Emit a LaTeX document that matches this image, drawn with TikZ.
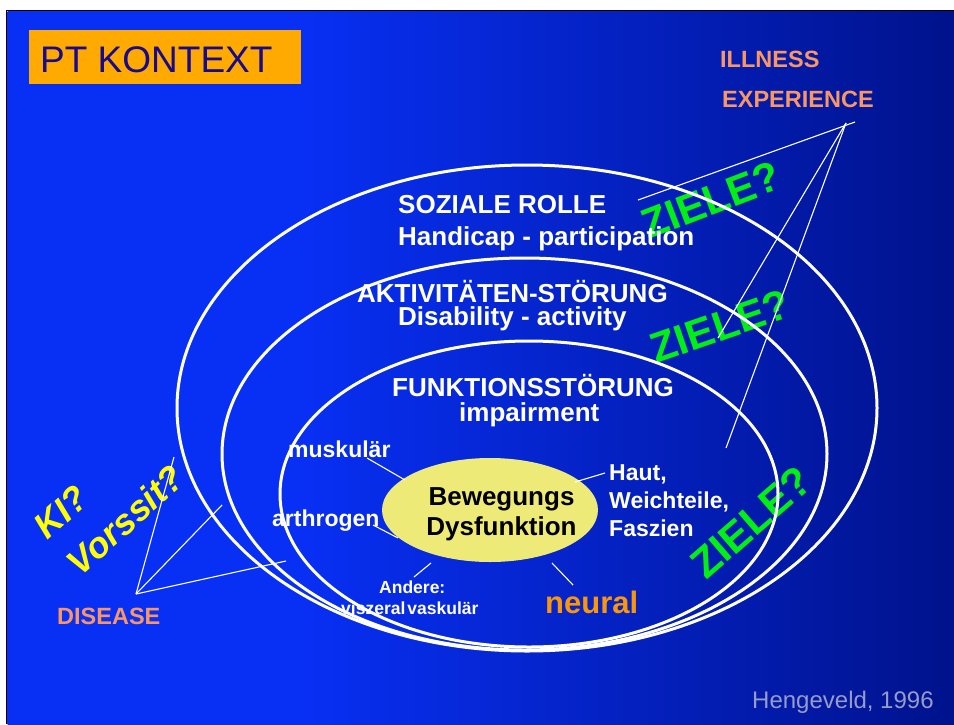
\documentclass[tikz,border=0pt]{standalone}
\usepackage{fontspec}
\setmainfont{Liberation Sans}
\usetikzlibrary{shapes.geometric}
\definecolor{bgA}{RGB}{8,48,245}
\definecolor{bgB}{RGB}{0,18,140}
\definecolor{salmon}{RGB}{250,150,100}
\definecolor{zgreen}{RGB}{0,240,20}
\definecolor{kiyellow}{RGB}{255,255,0}
\definecolor{boxorange}{RGB}{255,170,0}
\definecolor{neuralorange}{RGB}{250,150,10}
\definecolor{navytxt}{RGB}{25,10,140}
\definecolor{hgray}{RGB}{150,155,200}
\definecolor{coreyellow}{RGB}{238,234,120}
\pgfdeclarehorizontalshading{slidebg}{100bp}{color(0bp)=(bgA); color(25bp)=(bgA); color(40bp)=(bgA); color(75bp)=(bgB); color(100bp)=(bgB)}
\begin{document}
\begin{tikzpicture}[x=1pt,y=-1pt,
  big/.style={text=white,font=\bfseries\fontsize{26}{30}\selectfont,anchor=base west,inner sep=0pt},
  mid/.style={text=white,font=\bfseries\fontsize{23}{26}\selectfont,anchor=base west,inner sep=0pt},
  tiny/.style={text=white,font=\bfseries\fontsize{17.5}{20}\selectfont,anchor=base west,inner sep=0pt},
  pale/.style={text=salmon,font=\bfseries\fontsize{23.5}{26}\selectfont,anchor=base west,inner sep=0pt},
  ring/.style={draw=white,line width=3pt},
  thinline/.style={draw=white,line width=1.1pt},
  ziele/.style={text=zgreen,font=\bfseries\fontsize{42}{44}\selectfont,inner sep=0pt},
  query/.style={text=kiyellow,font=\bfseries\itshape\fontsize{36}{40}\selectfont,inner sep=0pt}]
\useasboundingbox (0,0) rectangle (954,724);
\fill[white] (0,0) rectangle (954,724);
\shade[shading=slidebg] (7.5,11.5) rectangle (954,724);
\draw[black,line width=1.5pt] (6.5,724) -- (6.5,10.5) -- (954,10.5);

% title box
\node[fill=boxorange,minimum width=272pt,minimum height=54pt,anchor=north west,inner sep=0pt] (ptbox) at (29,30) {};
\node[text=navytxt,font=\fontsize{37}{40}\selectfont,anchor=base west,inner sep=0pt] (pttext) at (40,72) {PT KONTEXT};

% green / yellow question texts (under the lines)
\node[ziele,rotate=21] (z1) at (711,200) {ZIELE?};
\node[ziele,rotate=19] (z2) at (720,326) {ZIELE?};
\node[ziele,rotate=41] (z3) at (751,522) {ZIELE?};
\node[query,rotate=42] (ki) at (61,512) {KI?};
\node[query,rotate=42] (vor) at (125,520) {Vorssit?};

% rings
\draw[ring] (527,408) ellipse [x radius=350pt, y radius=243pt];
\draw[ring] (524.5,454) ellipse [x radius=302.5pt, y radius=196pt];
\draw[ring] (529,494) ellipse [x radius=249pt, y radius=153pt];
\node[ellipse,fill=coreyellow,minimum width=216pt,minimum height=104pt,inner sep=0pt] (core) at (490,510) {};

% labels
\node[pale] (ill) at (720,67) {ILLNESS};
\node[pale] (exp) at (722,107) {EXPERIENCE};
\node[pale] (dis) at (57,624) {DISEASE};
\node[big] (soz) at (398,213) {SOZIALE ROLLE};
\node[big] (hand) at (398,245) {Handicap - participation};
\node[big] (akt) at (357,302) {AKTIVITÄTEN-STÖRUNG};
\node[big] (disab) at (398,325) {Disability - activity};
\node[big] (fun) at (392,396) {FUNKTIONSSTÖRUNG};
\node[big] (imp) at (459,421) {impairment};
\node[mid] (musk) at (288,457) {muskulär};
\node[mid] (arth) at (272,526) {arthrogen};
\node[mid] (haut) at (609,480) {Haut,};
\node[mid] (weich) at (609,508) {Weichteile,};
\node[mid] (fasz) at (609,536) {Faszien};
\node[tiny] (and) at (379,593) {Andere:};
\node[tiny] (visz) at (341,614) {viszeral\hspace{2pt}vaskulär};
\node[text=neuralorange,font=\bfseries\fontsize{31}{34}\selectfont,anchor=base west,inner sep=0pt] (neur) at (545,613) {neural};
\node[text=black,font=\bfseries\fontsize{26}{30}\selectfont,anchor=base,inner sep=0pt] (bew) at (501.5,505) {Bewegungs};
\node[text=black,font=\bfseries\fontsize{26}{30}\selectfont,anchor=base,inner sep=0pt] (dysf) at (501.5,535) {Dysfunktion};
\node[text=hgray,font=\fontsize{24}{27}\selectfont,anchor=base west,inner sep=0pt] (heng) at (752,708) {Hengeveld, 1996};

% connector coordinates
\coordinate (illtip) at (846,123);
\coordinate (illext) at (855,122);
\coordinate (ie1) at (638,200);
\coordinate (ie2) at (718,338);
\coordinate (ie3) at (726,448);
\coordinate (distip) at (136,594);
\coordinate (de1) at (174,457);
\coordinate (de2) at (222,505);
\coordinate (de3) at (286,561);
\coordinate (muska) at (367,458);
\coordinate (muskb) at (405,480);
\coordinate (artha) at (373,525);
\coordinate (arthb) at (398,538);
\coordinate (hauta) at (605,473);
\coordinate (hautb) at (575,482);
\coordinate (anda) at (414,577);
\coordinate (andb) at (431,563);
\coordinate (neura) at (573,585);
\coordinate (neurb) at (552,563);

\draw[thinline] (ie1) -- (illext);
\draw[thinline] (illtip) -- (ie2);
\draw[thinline] (illtip) -- (ie3);
\draw[thinline] (distip) -- (de1);
\draw[thinline] (distip) -- (de2);
\draw[thinline] (distip) -- (de3);
\draw[thinline] (muska) -- (muskb);
\draw[thinline] (artha) -- (arthb);
\draw[thinline] (hauta) -- (hautb);
\draw[thinline] (anda) -- (andb);
\draw[thinline] (neura) -- (neurb);
\end{tikzpicture}
\end{document}
